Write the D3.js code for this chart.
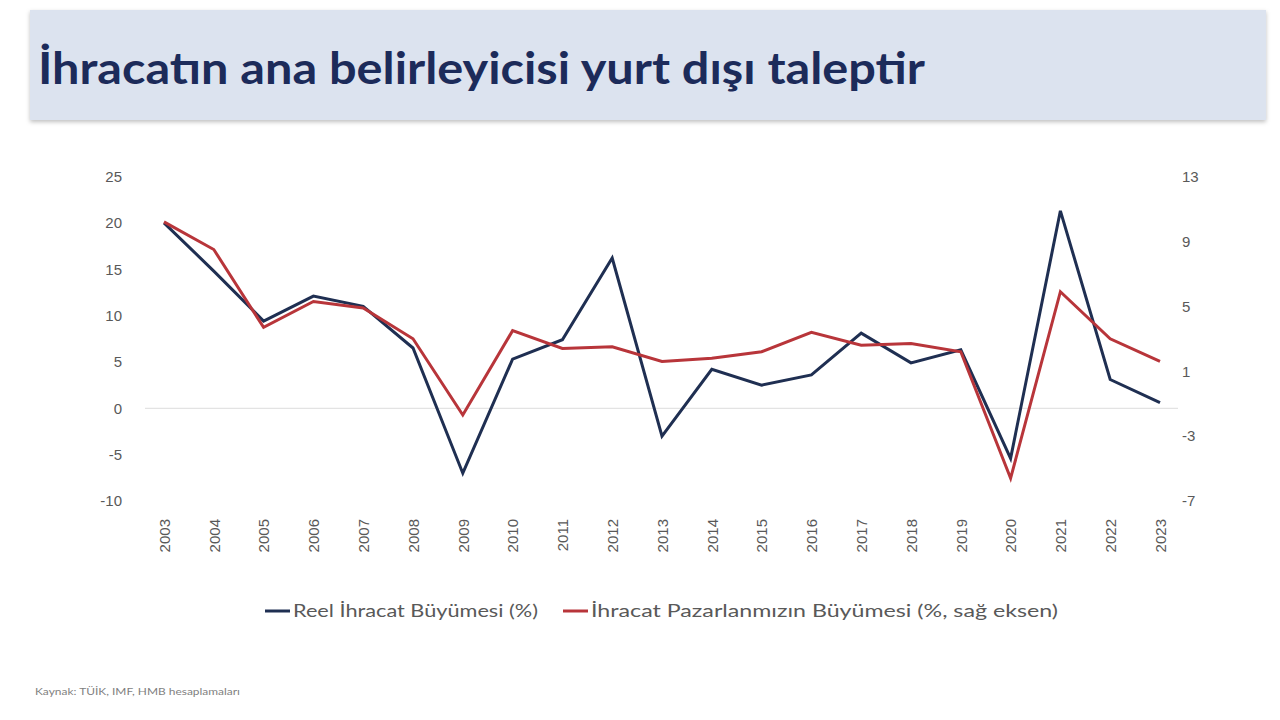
<!DOCTYPE html>
<html>
<head>
<meta charset="utf-8">
<script src="https://cdn.jsdelivr.net/npm/d3@7"></script>
<style>
  body { margin: 0; background: #fff; }
  svg { display: block; font-family: Lato, "Open Sans", sans-serif; }
  .tick text { fill: #595959; font-size: 15px; }
</style>
</head>
<body>
<script>
// data
const years = ['2003','2004','2005','2006','2007','2008','2009','2010','2011','2012','2013',
               '2014','2015','2016','2017','2018','2019','2020','2021','2022','2023'];
const realExports = [20.0, 14.8, 9.4, 12.1, 11.0, 6.5, -7.0, 5.3, 7.4, 16.2, -3.0,
                     4.2, 2.5, 3.6, 8.1, 4.9, 6.3, -5.4, 21.3, 3.1, 0.6];
const exportMarkets = [10.2, 8.5, 3.7, 5.3, 4.9, 3.0, -1.7, 3.5, 2.4, 2.5, 1.6,
                       1.8, 2.2, 3.4, 2.6, 2.7, 2.2, -5.6, 5.9, 3.0, 1.6];
const leftTicks = [-10, -5, 0, 5, 10, 15, 20, 25];
const rightTicks = [-7, -3, 1, 5, 9, 13];
const seriesNames = ['Reel İhracat Büyümesi (%)', 'İhracat Pazarlanmızın Büyümesi (%, sağ eksen)'];
const title = 'İhracatın ana belirleyicisi yurt dışı taleptir';
const source = 'Kaynak: TÜİK, IMF, HMB hesaplamaları';

const W = 1280, H = 720;
const blue = '#1f2f52', red = '#b8353a';

const svg = d3.select('body').append('svg').attr('width', W).attr('height', H);

// title band (the slide is stretched sideways, so texts get a fixed length)
const defs = svg.append('defs');
const f = defs.append('filter').attr('id', 'shadow').attr('x', '-5%').attr('y', '-10%').attr('width', '110%').attr('height', '130%');
f.append('feDropShadow').attr('dx', 0).attr('dy', 2).attr('stdDeviation', 2).attr('flood-color', '#000').attr('flood-opacity', 0.25);
svg.append('rect').attr('x', 30).attr('y', 10).attr('width', 1236).attr('height', 110)
  .attr('fill', '#dce3ef').attr('filter', 'url(#shadow)');
svg.append('text').attr('x', 38).attr('y', 84)
  .attr('fill', '#1c2b5a').attr('font-size', 44).attr('font-weight', 700)
  .attr('textLength', 887).attr('lengthAdjust', 'spacingAndGlyphs')
  .text(title);

// scales
const x = d3.scalePoint().domain(years).range([164, 1160]);
const yL = d3.scaleLinear().domain([-10, 25]).range([501, 176.5]);
const yR = d3.scaleLinear().domain([-7, 13]).range([501, 176.5]);

// zero line
svg.append('line').attr('x1', 145).attr('x2', 1178)
  .attr('y1', yL(0)).attr('y2', yL(0))
  .attr('stroke', '#e3e3e3').attr('stroke-width', 1.2);

// axes
const fmt = d => String(d); // plain hyphen minus, as in the slide
const gL = svg.append('g').attr('transform', 'translate(122,0)')
  .call(d3.axisLeft(yL).tickValues(leftTicks).tickFormat(fmt).tickSize(0).tickPadding(0));
const gR = svg.append('g').attr('transform', 'translate(1182,0)')
  .call(d3.axisRight(yR).tickValues(rightTicks).tickFormat(fmt).tickSize(0).tickPadding(0));
const gX = svg.append('g').attr('transform', 'translate(0,519)')
  .call(d3.axisBottom(x).tickSize(0).tickPadding(0));
[gL, gR, gX].forEach(g => g.select('.domain').remove());
gX.selectAll('text')
  .attr('font-size', 16)
  .attr('transform', 'rotate(-90)')
  .attr('text-anchor', 'end').attr('dy', '0.35em').attr('y', 0).attr('x', 0);

// lines
const lineL = d3.line().x((d, i) => x(years[i])).y(d => yL(d));
const lineR = d3.line().x((d, i) => x(years[i])).y(d => yR(d));
svg.append('path').datum(realExports).attr('d', lineL)
  .attr('fill', 'none').attr('stroke', blue).attr('stroke-width', 3);
svg.append('path').datum(exportMarkets).attr('d', lineR)
  .attr('fill', 'none').attr('stroke', red).attr('stroke-width', 3);

// legend
const legend = [
  { name: seriesNames[0], color: blue, x: 265, len: 245 },
  { name: seriesNames[1], color: red, x: 563, len: 467 }
];
const lg = svg.append('g').selectAll('g').data(legend).join('g')
  .attr('transform', d => `translate(${d.x},611)`);
lg.append('line').attr('x1', 0).attr('x2', 25).attr('stroke', d => d.color).attr('stroke-width', 3);
lg.append('text').attr('x', 28).attr('dy', '0.35em')
  .attr('fill', '#595959').attr('font-size', 18)
  .attr('textLength', d => d.len).attr('lengthAdjust', 'spacingAndGlyphs')
  .text(d => d.name);

// source
svg.append('text').attr('x', 35).attr('y', 695)
  .attr('fill', '#7f7f7f').attr('font-size', 9)
  .attr('textLength', 205).attr('lengthAdjust', 'spacingAndGlyphs')
  .text(source);
</script>
</body>
</html>
